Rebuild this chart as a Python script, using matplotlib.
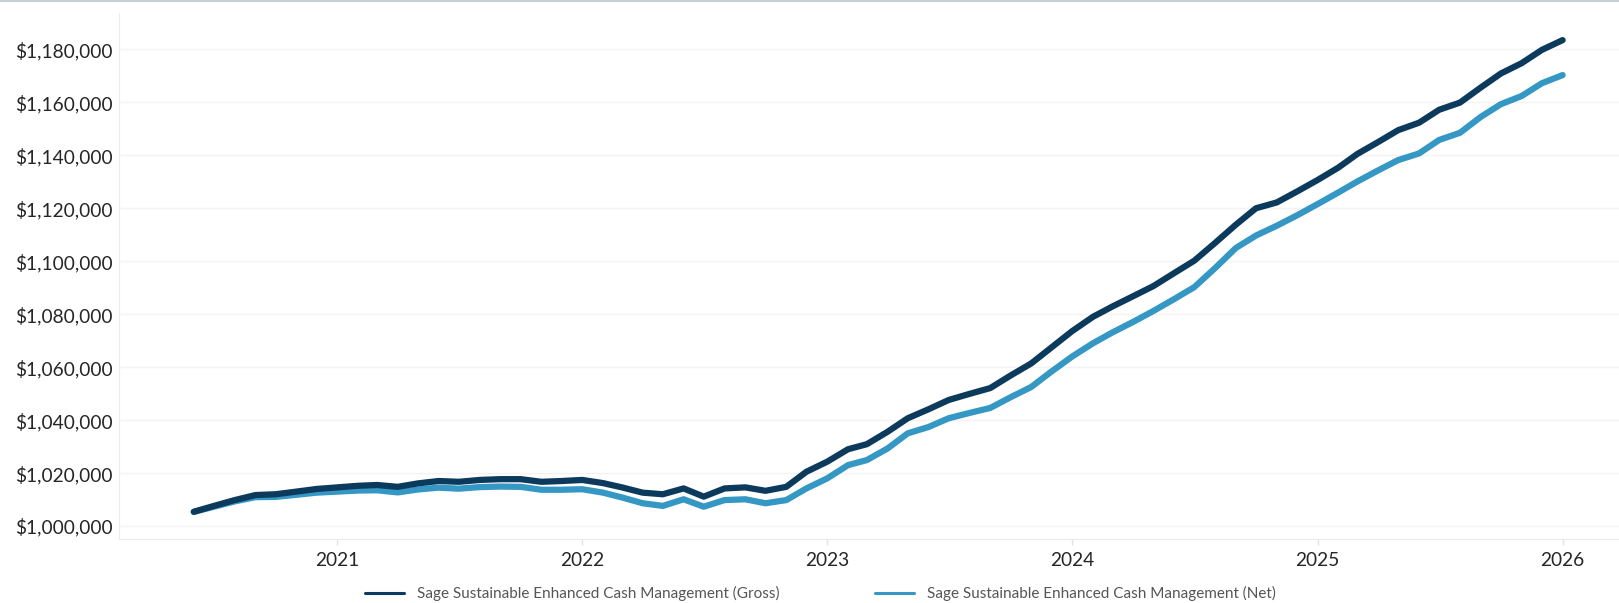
import numpy as np
import pandas as pd
import matplotlib
matplotlib.use('Agg')
import matplotlib.pyplot as plt
import matplotlib.dates as mdates
from matplotlib.ticker import FuncFormatter, MultipleLocator

# monthly growth of a hypothetical $1,000,000 investment
dates = pd.date_range('2020-06-01', periods=68, freq='MS')

gross = [1005400, 1007600, 1009800, 1011700, 1012000, 1013000, 1014000, 1014600,
         1015200, 1015500, 1014800, 1016100, 1017000, 1016700, 1017400, 1017700,
         1017700, 1016700, 1017000, 1017400, 1016200, 1014600, 1012600, 1012000,
         1014200, 1011100, 1014200, 1014600, 1013300, 1014800, 1020500, 1024300,
         1029000, 1030900, 1035600, 1040700, 1044100, 1047600, 1049900, 1052100,
         1056800, 1061400, 1067400, 1073600, 1079000, 1082900, 1086800, 1090600,
         1095500, 1100200, 1106900, 1113800, 1120000, 1122200, 1126300, 1130700,
         1135400, 1140500, 1145000, 1149500, 1152300, 1157200, 1159900, 1165600,
         1170900, 1174800, 1179800, 1183500]

net = [1005300, 1007300, 1009300, 1010900, 1011000, 1011800, 1012600, 1013000,
       1013400, 1013500, 1012700, 1013800, 1014500, 1014100, 1014700, 1014900,
       1014800, 1013700, 1013700, 1013900, 1012600, 1010800, 1008600, 1007600,
       1010100, 1007300, 1009800, 1010100, 1008600, 1009800, 1014200, 1018000,
       1023000, 1024900, 1029300, 1035000, 1037400, 1040700, 1042700, 1044600,
       1048600, 1052500, 1058300, 1064000, 1069000, 1073100, 1077100, 1081200,
       1085700, 1090200, 1097400, 1105000, 1109700, 1113400, 1117300, 1121600,
       1126000, 1130100, 1134300, 1138200, 1140700, 1145800, 1148500, 1154500,
       1159300, 1162400, 1167200, 1170300]

labels = ['Sage Sustainable Enhanced Cash Management (Gross)',
          'Sage Sustainable Enhanced Cash Management (Net)']
colors = ['#0c3a5d', '#3597c4']

plt.rcParams['font.family'] = ['Lato', 'DejaVu Sans']

fig = plt.figure(figsize=(16.19, 6.03), dpi=100)
ax = fig.add_axes([0.0737, 0.1056, 0.9263, 0.8733])

ax.plot(dates, net, color=colors[1], lw=4.5, solid_capstyle='round',
        solid_joinstyle='round', label=labels[1], zorder=3)
ax.plot(dates, gross, color=colors[0], lw=4.5, solid_capstyle='round',
        solid_joinstyle='round', label=labels[0], zorder=4)

ax.set_ylim(994980, 1193840)
ax.set_xlim(pd.Timestamp('2020-02-11'), pd.Timestamp('2026-03-26'))

ax.yaxis.set_major_locator(MultipleLocator(20000))
ax.yaxis.set_major_formatter(FuncFormatter(lambda v, p: '${:,.0f}'.format(v)))
ax.xaxis.set_major_locator(mdates.YearLocator())
ax.xaxis.set_major_formatter(mdates.DateFormatter('%Y'))

ax.grid(axis='y', color='#f3f3f3', lw=1)
ax.set_axisbelow(True)
ax.tick_params(axis='y', length=0, pad=5, labelsize=13.8, labelcolor='#262626')
ax.tick_params(axis='x', length=4, width=1, color='#e3e3e3', pad=5,
               labelsize=13.8, labelcolor='#262626')

for s in ['top', 'right']:
    ax.spines[s].set_visible(False)
ax.spines['left'].set_color('#ececec')
ax.spines['bottom'].set_color('#ececec')

# legend below the plot, gross first
h, l = ax.get_legend_handles_labels()
leg = fig.legend([h[1], h[0]], [l[1], l[0]], loc='center', ncol=2,
                 bbox_to_anchor=(0.5065, 0.015), frameon=False, fontsize=11,
                 handlelength=2.6, handletextpad=0.8, columnspacing=6.25)
for line in leg.get_lines():
    line.set_linewidth(2.2)
for t in leg.get_texts():
    t.set_color('#555555')

# thin border at the very top
fig.add_artist(plt.Line2D([0, 1], [0.998, 0.998], transform=fig.transFigure,
                          color='#c6d1db', lw=1.5))

fig.savefig('out.png', dpi=100, facecolor='white')
